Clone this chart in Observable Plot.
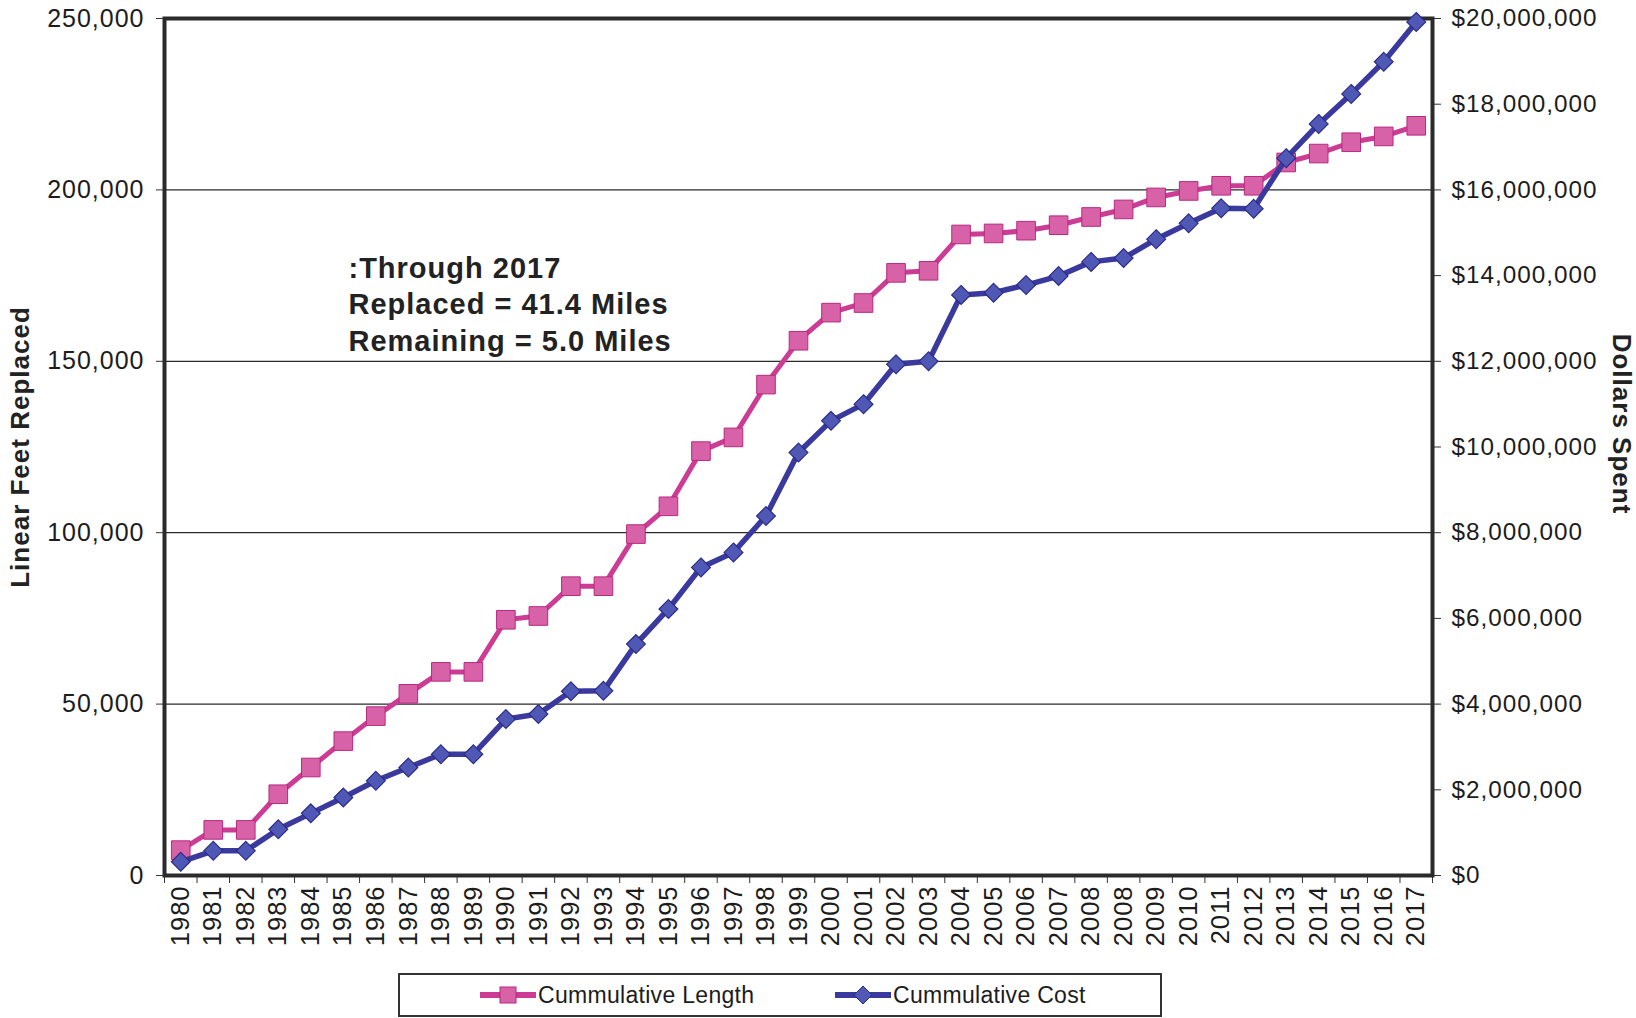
<!DOCTYPE html>
<html>
<head>
<meta charset="utf-8">
<script src="https://cdn.jsdelivr.net/npm/d3@7"></script>
<script src="https://cdn.jsdelivr.net/npm/@observablehq/plot@0.6"></script>
<style>
  html, body { margin: 0; padding: 0; background: #ffffff; }
  #wrap { position: relative; width: 1636px; height: 1018px; overflow: hidden; font-family: "Liberation Sans", Arial, sans-serif; }
  #chart svg text { letter-spacing: 1px; }
  #legend { position: absolute; left: 398px; top: 973px; width: 764px; height: 44px; box-sizing: border-box; border: 2px solid #333; background: #fff; }
  .item { position: absolute; top: 0; height: 40px; display: flex; align-items: center; font-size: 23px; color: #1c1c1c; letter-spacing: 0.3px; }
  .item svg { margin-right: 2px; }
</style>
</head>
<body>
<div id="wrap">
  <div id="chart"></div>
  <div id="legend"></div>
</div>
<script>
// ---- data ----
const yearLabels = ["1980","1981","1982","1983","1984","1985","1986","1987","1988","1989",
  "1990","1991","1992","1993","1994","1995","1996","1997","1998","1999",
  "2000","2001","2002","2003","2004","2005","2006","2007","2008","2008",
  "2009","2010","2011","2012","2013","2014","2015","2016","2017"];
const lengthFeet = [7400, 13300, 13300, 23700, 31500, 39200, 46500, 53000, 59400, 59400,
  74600, 75700, 84400, 84400, 99600, 107700, 123800, 127800, 143200, 156000,
  164200, 167000, 175800, 176400, 187000, 187300, 188100, 189700, 192100, 194300,
  197800, 199700, 201200, 201200, 208000, 210600, 213900, 215600, 218700];
const costDollars = [320000, 576000, 576000, 1080000, 1450000, 1820000, 2210000, 2520000, 2830000, 2830000,
  3650000, 3770000, 4300000, 4310000, 5400000, 6220000, 7190000, 7540000, 8390000, 9870000,
  10610000, 11000000, 11930000, 12000000, 13550000, 13600000, 13780000, 13990000, 14320000, 14410000,
  14850000, 15220000, 15570000, 15560000, 16740000, 17540000, 18240000, 18990000, 19920000];
const leftTicks = [0, 50000, 100000, 150000, 200000, 250000];
const rightTicks = [0, 2000000, 4000000, 6000000, 8000000, 10000000, 12000000, 14000000, 16000000, 18000000, 20000000];
const seriesNames = ["Cummulative Length", "Cummulative Cost"];
const annotationLines = [":Through 2017", "Replaced = 41.4 Miles", "Remaining = 5.0 Miles"];
const leftTitle = "Linear Feet Replaced";
const rightTitle = "Dollars Spent";

// ---- build ----
const n = yearLabels.length;
const leftMax = leftTicks[leftTicks.length - 1];
const rightMax = rightTicks[rightTicks.length - 1];
const ratio = rightMax / leftMax; // dollars per left-axis unit
const rows = yearLabels.map((y, i) => ({i, year: y, length: lengthFeet[i], cost: costDollars[i]}));

const pinkLine = "#cc3b94", pinkFill = "#d862a8", pinkStroke = "#b8287e";
const blueLine = "#3a3a9e", blueFill = "#5058b6", blueStroke = "#2c2c86";
const textColor = "#1c1c1c";

const diamond = {
  draw(context, size) {
    const h = Math.sqrt(size / 2);
    context.moveTo(0, -h);
    context.lineTo(h, 0);
    context.lineTo(0, h);
    context.lineTo(-h, 0);
    context.closePath();
  }
};

const boundaries = d3.range(n + 1).map(k => k - 0.5);
const fmt = d3.format(",");

const chart = Plot.plot({
  width: 1636,
  height: 968,
  marginLeft: 164,
  marginRight: 204,
  marginTop: 18,
  marginBottom: 93,
  x: {type: "linear", domain: [-0.5, n - 0.5], axis: null},
  y: {domain: [0, leftMax], axis: null},
  style: {fontFamily: "'Liberation Sans', Arial, sans-serif", fontSize: "25px", color: textColor, background: "#ffffff"},
  marks: [
    Plot.ruleY(leftTicks.filter(v => v > 0 && v < leftMax), {stroke: "#2a2a2a", strokeWidth: 1.3}),
    Plot.axisY({ticks: leftTicks, tickFormat: fmt, tickSize: 8, tickPadding: 12, fontSize: 25, fill: textColor, stroke: "#333", label: null}),
    Plot.axisY({anchor: "right", ticks: rightTicks.map(v => v / ratio), tickFormat: v => "$" + fmt(Math.round(v * ratio)),
      tickSize: 8, tickPadding: 11, fontSize: 24.3, fill: textColor, stroke: "#333", label: null}),
    Plot.axisX({ticks: d3.range(n), tickFormat: k => yearLabels[k], tickRotate: -90, tickSize: 0, tickPadding: 10, fontSize: 25.5, fill: textColor, label: null}),
    Plot.axisX({ticks: boundaries, tickFormat: () => "", tickSize: 8, stroke: "#333", label: null}),
    Plot.frame({stroke: "#2b2b2b", strokeWidth: 4}),
    Plot.line(rows, {x: "i", y: "length", stroke: pinkLine, strokeWidth: 5}),
    Plot.dot(rows, {x: "i", y: "length", symbol: "square", r: 10.5, fill: pinkFill, stroke: pinkStroke, strokeWidth: 1}),
    Plot.line(rows, {x: "i", y: d => d.cost / ratio, stroke: blueLine, strokeWidth: 5.5}),
    Plot.dot(rows, {x: "i", y: d => d.cost / ratio, symbol: diamond, r: 7.5, fill: blueFill, stroke: blueStroke, strokeWidth: 1.2}),
    Plot.text([annotationLines.join("\n")], {text: d => d, frameAnchor: "top-left", dx: 184, dy: 233, textAnchor: "start",
      lineAnchor: "top", lineHeight: 1.27, fontSize: 29, fontWeight: "bold", fill: "#222"}),
    Plot.text([leftTitle], {text: d => d, frameAnchor: "left", dx: -144, rotate: -90, textAnchor: "middle",
      fontSize: 26, fontWeight: "bold", fill: "#222"}),
    Plot.text([rightTitle], {text: d => d, frameAnchor: "right", dx: 189, dy: -23, rotate: 90, textAnchor: "middle",
      fontSize: 26, fontWeight: "bold", fill: "#222"})
  ]
});
document.getElementById("chart").appendChild(chart);

// ---- legend ----
function sample(color, fill, stroke, shape) {
  const s = d3.create("svg").attr("width", 56).attr("height", 20);
  s.append("line").attr("x1", 0).attr("x2", 56).attr("y1", 10).attr("y2", 10)
    .attr("stroke", color).attr("stroke-width", 6).attr("stroke-linecap", "round");
  if (shape === "square") {
    s.append("rect").attr("x", 20).attr("y", 2).attr("width", 16).attr("height", 16)
      .attr("fill", fill).attr("stroke", stroke);
  } else {
    s.append("path").attr("d", "M28,1L37,10L28,19L19,10Z").attr("fill", fill).attr("stroke", stroke);
  }
  return s.node();
}
const legend = document.getElementById("legend");
const items = [
  {name: seriesNames[0], left: 80, node: sample(pinkLine, pinkFill, pinkStroke, "square")},
  {name: seriesNames[1], left: 435, node: sample(blueLine, blueFill, blueStroke, "diamond")}
];
for (const it of items) {
  const d = document.createElement("div");
  d.className = "item";
  d.style.left = it.left + "px";
  d.appendChild(it.node);
  const t = document.createElement("span");
  t.textContent = it.name;
  d.appendChild(t);
  legend.appendChild(d);
}
</script>
</body>
</html>
